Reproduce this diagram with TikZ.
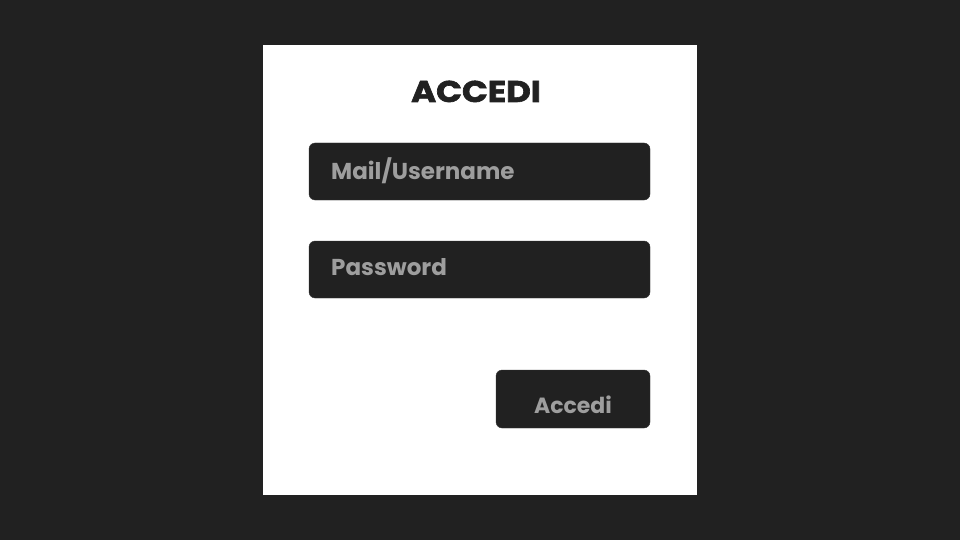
\documentclass[tikz,border=0pt]{standalone}
\usepackage{fontspec}
\setmainfont{Poppins}
\newfontfamily\ttlfont[BoldFeatures={FakeBold=2}]{Poppins}
\definecolor{bgdark}{HTML}{212121}
\definecolor{hint}{HTML}{9E9E9E}
\tikzset{fld/.style = {rectangle, rounded corners=6pt, fill=bgdark, draw=bgdark!90!white, minimum width=341pt, minimum height=57pt, inner sep=0pt},
         btn/.style = {rectangle, rounded corners=6pt, fill=bgdark, draw=bgdark!90!white, minimum width=154pt, minimum height=58pt, inner sep=0pt},
         hnt/.style = {text=hint, font=\fontsize{23}{25}\selectfont\bfseries, inner sep=0pt}}

\begin{document}
\begin{tikzpicture}[x=1pt, y=-1pt]
    \fill[bgdark] (0,0) rectangle (960,540);
    \fill[white] (263,45) rectangle (697,495);
    \node[text=bgdark, font=\fontsize{30}{32}\ttlfont\bfseries, inner sep=0pt, anchor=base, xscale=1.13, transform shape] (title) at (476,102) {ACCEDI};
    \node[fld] (mail) at (479.5,171.5) {}; \node[fld] (pass) at (479.5,269.5) {};
    \node[btn] (go) at (573,399) {};
    \node[hnt, anchor=base west] (tmail) at (331,179) {Mail/Username};
    \node[hnt, anchor=base west] (tpass) at (331,275) {Password};
    \node[hnt, anchor=base, font=\fontsize{22}{24}\selectfont\bfseries] (tgo) at (573,413) {Accedi};
\end{tikzpicture}
\end{document}
